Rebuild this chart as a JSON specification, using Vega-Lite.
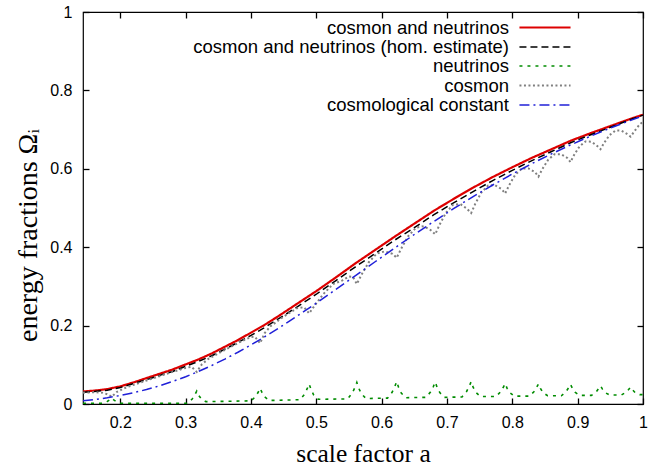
{
 "$schema": "https://vega.github.io/schema/vega-lite/v6.json",
 "width": 560, "height": 392,
 "autosize": {"type": "none"},
 "padding": {"left": 83, "top": 12, "right": 27, "bottom": 64},
 "background": "white",
 "config": {
  "view": {"stroke": "#000", "strokeWidth": 1.2}
 },
 "datasets": {
  "d": [
   {"s":"cosmon and neutrinos","a":0.1429,"v":0.032},{"s":"cosmon and neutrinos","a":0.16,"v":0.034},{"s":"cosmon and neutrinos","a":0.18,"v":0.038},{"s":"cosmon and neutrinos","a":0.2,"v":0.045},{"s":"cosmon and neutrinos","a":0.22,"v":0.055},{"s":"cosmon and neutrinos","a":0.24,"v":0.066},{"s":"cosmon and neutrinos","a":0.26,"v":0.077},{"s":"cosmon and neutrinos","a":0.28,"v":0.088},{"s":"cosmon and neutrinos","a":0.3,"v":0.101},{"s":"cosmon and neutrinos","a":0.32,"v":0.114},{"s":"cosmon and neutrinos","a":0.34,"v":0.129},{"s":"cosmon and neutrinos","a":0.36,"v":0.146},{"s":"cosmon and neutrinos","a":0.38,"v":0.163},{"s":"cosmon and neutrinos","a":0.4,"v":0.182},{"s":"cosmon and neutrinos","a":0.42,"v":0.201},{"s":"cosmon and neutrinos","a":0.44,"v":0.222},{"s":"cosmon and neutrinos","a":0.46,"v":0.244},{"s":"cosmon and neutrinos","a":0.48,"v":0.266},{"s":"cosmon and neutrinos","a":0.5,"v":0.288},{"s":"cosmon and neutrinos","a":0.53,"v":0.323},{"s":"cosmon and neutrinos","a":0.56,"v":0.359},{"s":"cosmon and neutrinos","a":0.59,"v":0.393},{"s":"cosmon and neutrinos","a":0.62,"v":0.427},{"s":"cosmon and neutrinos","a":0.65,"v":0.46},{"s":"cosmon and neutrinos","a":0.68,"v":0.493},{"s":"cosmon and neutrinos","a":0.71,"v":0.523},{"s":"cosmon and neutrinos","a":0.74,"v":0.552},{"s":"cosmon and neutrinos","a":0.77,"v":0.579},{"s":"cosmon and neutrinos","a":0.8,"v":0.604},{"s":"cosmon and neutrinos","a":0.83,"v":0.628},{"s":"cosmon and neutrinos","a":0.86,"v":0.65},{"s":"cosmon and neutrinos","a":0.89,"v":0.672},{"s":"cosmon and neutrinos","a":0.92,"v":0.691},{"s":"cosmon and neutrinos","a":0.95,"v":0.709},{"s":"cosmon and neutrinos","a":0.98,"v":0.727},{"s":"cosmon and neutrinos","a":1,"v":0.738},
   {"s":"cosmon and neutrinos (hom. estimate)","a":0.1429,"v":0.03},{"s":"cosmon and neutrinos (hom. estimate)","a":0.16,"v":0.032},{"s":"cosmon and neutrinos (hom. estimate)","a":0.18,"v":0.035},{"s":"cosmon and neutrinos (hom. estimate)","a":0.2,"v":0.042},{"s":"cosmon and neutrinos (hom. estimate)","a":0.22,"v":0.052},{"s":"cosmon and neutrinos (hom. estimate)","a":0.24,"v":0.062},{"s":"cosmon and neutrinos (hom. estimate)","a":0.26,"v":0.073},{"s":"cosmon and neutrinos (hom. estimate)","a":0.28,"v":0.083},{"s":"cosmon and neutrinos (hom. estimate)","a":0.3,"v":0.096},{"s":"cosmon and neutrinos (hom. estimate)","a":0.32,"v":0.109},{"s":"cosmon and neutrinos (hom. estimate)","a":0.34,"v":0.123},{"s":"cosmon and neutrinos (hom. estimate)","a":0.36,"v":0.14},{"s":"cosmon and neutrinos (hom. estimate)","a":0.38,"v":0.157},{"s":"cosmon and neutrinos (hom. estimate)","a":0.4,"v":0.175},{"s":"cosmon and neutrinos (hom. estimate)","a":0.42,"v":0.194},{"s":"cosmon and neutrinos (hom. estimate)","a":0.44,"v":0.215},{"s":"cosmon and neutrinos (hom. estimate)","a":0.46,"v":0.236},{"s":"cosmon and neutrinos (hom. estimate)","a":0.48,"v":0.258},{"s":"cosmon and neutrinos (hom. estimate)","a":0.5,"v":0.28},{"s":"cosmon and neutrinos (hom. estimate)","a":0.53,"v":0.315},{"s":"cosmon and neutrinos (hom. estimate)","a":0.56,"v":0.35},{"s":"cosmon and neutrinos (hom. estimate)","a":0.59,"v":0.384},{"s":"cosmon and neutrinos (hom. estimate)","a":0.62,"v":0.418},{"s":"cosmon and neutrinos (hom. estimate)","a":0.65,"v":0.45},{"s":"cosmon and neutrinos (hom. estimate)","a":0.68,"v":0.483},{"s":"cosmon and neutrinos (hom. estimate)","a":0.71,"v":0.513},{"s":"cosmon and neutrinos (hom. estimate)","a":0.74,"v":0.542},{"s":"cosmon and neutrinos (hom. estimate)","a":0.77,"v":0.57},{"s":"cosmon and neutrinos (hom. estimate)","a":0.8,"v":0.596},{"s":"cosmon and neutrinos (hom. estimate)","a":0.83,"v":0.621},{"s":"cosmon and neutrinos (hom. estimate)","a":0.86,"v":0.644},{"s":"cosmon and neutrinos (hom. estimate)","a":0.89,"v":0.667},{"s":"cosmon and neutrinos (hom. estimate)","a":0.92,"v":0.687},{"s":"cosmon and neutrinos (hom. estimate)","a":0.95,"v":0.706},{"s":"cosmon and neutrinos (hom. estimate)","a":0.98,"v":0.725},{"s":"cosmon and neutrinos (hom. estimate)","a":1,"v":0.737},
   {"s":"neutrinos","a":0.1429,"v":0.002},{"s":"neutrinos","a":0.173,"v":0.002},{"s":"neutrinos","a":0.18,"v":0.0066},{"s":"neutrinos","a":0.184,"v":0.011},{"s":"neutrinos","a":0.187,"v":0.015},{"s":"neutrinos","a":0.19,"v":0.0105},{"s":"neutrinos","a":0.194,"v":0.006},{"s":"neutrinos","a":0.201,"v":0.002},
   {"s":"neutrinos","a":0.303,"v":0.002},{"s":"neutrinos","a":0.31,"v":0.0125},{"s":"neutrinos","a":0.314,"v":0.023},{"s":"neutrinos","a":0.317,"v":0.033},{"s":"neutrinos","a":0.32,"v":0.022},{"s":"neutrinos","a":0.324,"v":0.013},{"s":"neutrinos","a":0.331,"v":0.006},
   {"s":"neutrinos","a":0.4,"v":0.008},{"s":"neutrinos","a":0.407,"v":0.019},{"s":"neutrinos","a":0.411,"v":0.03},{"s":"neutrinos","a":0.414,"v":0.04},{"s":"neutrinos","a":0.417,"v":0.029},{"s":"neutrinos","a":0.421,"v":0.018},{"s":"neutrinos","a":0.428,"v":0.009},
   {"s":"neutrinos","a":0.475,"v":0.011},{"s":"neutrinos","a":0.482,"v":0.025},{"s":"neutrinos","a":0.486,"v":0.039},{"s":"neutrinos","a":0.489,"v":0.051},{"s":"neutrinos","a":0.492,"v":0.037},{"s":"neutrinos","a":0.496,"v":0.023},{"s":"neutrinos","a":0.503,"v":0.012},
   {"s":"neutrinos","a":0.548,"v":0.013},{"s":"neutrinos","a":0.555,"v":0.028},{"s":"neutrinos","a":0.559,"v":0.042},{"s":"neutrinos","a":0.562,"v":0.055},{"s":"neutrinos","a":0.565,"v":0.04},{"s":"neutrinos","a":0.569,"v":0.026},{"s":"neutrinos","a":0.576,"v":0.014},
   {"s":"neutrinos","a":0.609,"v":0.015},{"s":"neutrinos","a":0.616,"v":0.03},{"s":"neutrinos","a":0.62,"v":0.044},{"s":"neutrinos","a":0.623,"v":0.057},{"s":"neutrinos","a":0.626,"v":0.042},{"s":"neutrinos","a":0.63,"v":0.028},{"s":"neutrinos","a":0.637,"v":0.016},
   {"s":"neutrinos","a":0.668,"v":0.017},{"s":"neutrinos","a":0.675,"v":0.031},{"s":"neutrinos","a":0.679,"v":0.044},{"s":"neutrinos","a":0.682,"v":0.056},{"s":"neutrinos","a":0.685,"v":0.042},{"s":"neutrinos","a":0.689,"v":0.029},{"s":"neutrinos","a":0.696,"v":0.017},
   {"s":"neutrinos","a":0.723,"v":0.018},{"s":"neutrinos","a":0.73,"v":0.032},{"s":"neutrinos","a":0.734,"v":0.045},{"s":"neutrinos","a":0.737,"v":0.057},{"s":"neutrinos","a":0.74,"v":0.043},{"s":"neutrinos","a":0.744,"v":0.03},{"s":"neutrinos","a":0.751,"v":0.019},
   {"s":"neutrinos","a":0.775,"v":0.019},{"s":"neutrinos","a":0.782,"v":0.031},{"s":"neutrinos","a":0.786,"v":0.042},{"s":"neutrinos","a":0.789,"v":0.052},{"s":"neutrinos","a":0.792,"v":0.04},{"s":"neutrinos","a":0.796,"v":0.029},{"s":"neutrinos","a":0.803,"v":0.02},
   {"s":"neutrinos","a":0.826,"v":0.02},{"s":"neutrinos","a":0.833,"v":0.031},{"s":"neutrinos","a":0.837,"v":0.042},{"s":"neutrinos","a":0.84,"v":0.051},{"s":"neutrinos","a":0.843,"v":0.04},{"s":"neutrinos","a":0.847,"v":0.029},{"s":"neutrinos","a":0.854,"v":0.021},
   {"s":"neutrinos","a":0.875,"v":0.021},{"s":"neutrinos","a":0.882,"v":0.031},{"s":"neutrinos","a":0.886,"v":0.041},{"s":"neutrinos","a":0.889,"v":0.05},{"s":"neutrinos","a":0.892,"v":0.04},{"s":"neutrinos","a":0.896,"v":0.03},{"s":"neutrinos","a":0.903,"v":0.022},
   {"s":"neutrinos","a":0.921,"v":0.022},{"s":"neutrinos","a":0.928,"v":0.03},{"s":"neutrinos","a":0.932,"v":0.039},{"s":"neutrinos","a":0.935,"v":0.046},{"s":"neutrinos","a":0.938,"v":0.038},{"s":"neutrinos","a":0.942,"v":0.029},{"s":"neutrinos","a":0.949,"v":0.023},
   {"s":"neutrinos","a":0.967,"v":0.023},{"s":"neutrinos","a":0.974,"v":0.03},{"s":"neutrinos","a":0.978,"v":0.037},{"s":"neutrinos","a":0.981,"v":0.043},{"s":"neutrinos","a":0.984,"v":0.036},{"s":"neutrinos","a":0.988,"v":0.029},{"s":"neutrinos","a":0.995,"v":0.024},{"s":"neutrinos","a":1,"v":0.024},
   {"s":"cosmon","a":0.1429,"v":0.029},{"s":"cosmon","a":0.16,"v":0.03},{"s":"cosmon","a":0.172,"v":0.029},{"s":"cosmon","a":0.18,"v":0.025},{"s":"cosmon","a":0.187,"v":0.0185},
   {"s":"cosmon","a":0.195,"v":0.0313},{"s":"cosmon","a":0.21,"v":0.043},{"s":"cosmon","a":0.25,"v":0.0655},{"s":"cosmon","a":0.28,"v":0.082},{"s":"cosmon","a":0.3,"v":0.092},{"s":"cosmon","a":0.309,"v":0.095},{"s":"cosmon","a":0.317,"v":0.082},
   {"s":"cosmon","a":0.325,"v":0.1018},{"s":"cosmon","a":0.335,"v":0.1153},{"s":"cosmon","a":0.36,"v":0.138},{"s":"cosmon","a":0.385,"v":0.1597},{"s":"cosmon","a":0.4,"v":0.171},{"s":"cosmon","a":0.406,"v":0.1717},{"s":"cosmon","a":0.414,"v":0.155},
   {"s":"cosmon","a":0.421,"v":0.181},{"s":"cosmon","a":0.43,"v":0.1985},{"s":"cosmon","a":0.45,"v":0.223},{"s":"cosmon","a":0.47,"v":0.244},{"s":"cosmon","a":0.481,"v":0.2471},{"s":"cosmon","a":0.489,"v":0.231},
   {"s":"cosmon","a":0.4978,"v":0.252},{"s":"cosmon","a":0.5109,"v":0.2808},{"s":"cosmon","a":0.5255,"v":0.3058},{"s":"cosmon","a":0.5401,"v":0.3155},{"s":"cosmon","a":0.5502,"v":0.3252},{"s":"cosmon","a":0.556,"v":0.3242},{"s":"cosmon","a":0.562,"v":0.306},
   {"s":"cosmon","a":0.5693,"v":0.3302},{"s":"cosmon","a":0.5803,"v":0.3617},{"s":"cosmon","a":0.5925,"v":0.3838},{"s":"cosmon","a":0.6047,"v":0.3892},{"s":"cosmon","a":0.6167,"v":0.383},{"s":"cosmon","a":0.623,"v":0.373},
   {"s":"cosmon","a":0.6301,"v":0.3969},{"s":"cosmon","a":0.6407,"v":0.4281},{"s":"cosmon","a":0.6525,"v":0.4498},{"s":"cosmon","a":0.6643,"v":0.4536},{"s":"cosmon","a":0.6749,"v":0.4438},{"s":"cosmon","a":0.682,"v":0.433},
   {"s":"cosmon","a":0.6886,"v":0.4573},{"s":"cosmon","a":0.6985,"v":0.4883},{"s":"cosmon","a":0.7095,"v":0.5085},{"s":"cosmon","a":0.7205,"v":0.51},{"s":"cosmon","a":0.7304,"v":0.4984},{"s":"cosmon","a":0.737,"v":0.487},
   {"s":"cosmon","a":0.7432,"v":0.5105},{"s":"cosmon","a":0.7526,"v":0.5396},{"s":"cosmon","a":0.763,"v":0.5577},{"s":"cosmon","a":0.7734,"v":0.5584},{"s":"cosmon","a":0.7838,"v":0.548},{"s":"cosmon","a":0.789,"v":0.537},
   {"s":"cosmon","a":0.7951,"v":0.558},{"s":"cosmon","a":0.8043,"v":0.5844},{"s":"cosmon","a":0.8145,"v":0.6006},{"s":"cosmon","a":0.8247,"v":0.601},{"s":"cosmon","a":0.8349,"v":0.5911},{"s":"cosmon","a":0.84,"v":0.58},
   {"s":"cosmon","a":0.8459,"v":0.5991},{"s":"cosmon","a":0.8547,"v":0.6227},{"s":"cosmon","a":0.8645,"v":0.6373},{"s":"cosmon","a":0.8743,"v":0.6372},{"s":"cosmon","a":0.8841,"v":0.6277},{"s":"cosmon","a":0.889,"v":0.617},
   {"s":"cosmon","a":0.8945,"v":0.6352},{"s":"cosmon","a":0.9028,"v":0.6571},{"s":"cosmon","a":0.912,"v":0.6699},{"s":"cosmon","a":0.9212,"v":0.669},{"s":"cosmon","a":0.9295,"v":0.6589},{"s":"cosmon","a":0.935,"v":0.65},
   {"s":"cosmon","a":0.9405,"v":0.6661},{"s":"cosmon","a":0.9488,"v":0.686},{"s":"cosmon","a":0.958,"v":0.6978},{"s":"cosmon","a":0.9672,"v":0.6973},{"s":"cosmon","a":0.9755,"v":0.689},{"s":"cosmon","a":0.981,"v":0.682},
   {"s":"cosmon","a":0.9865,"v":0.695},{"s":"cosmon","a":0.995,"v":0.7136},{"s":"cosmon","a":1,"v":0.72},
   {"s":"cosmological constant","a":0.1429,"v":0.008},{"s":"cosmological constant","a":0.16,"v":0.0112},{"s":"cosmological constant","a":0.18,"v":0.0159},{"s":"cosmological constant","a":0.2,"v":0.0217},{"s":"cosmological constant","a":0.22,"v":0.0287},{"s":"cosmological constant","a":0.24,"v":0.0369},{"s":"cosmological constant","a":0.26,"v":0.0465},{"s":"cosmological constant","a":0.28,"v":0.0574},{"s":"cosmological constant","a":0.3,"v":0.0697},{"s":"cosmological constant","a":0.32,"v":0.0833},{"s":"cosmological constant","a":0.34,"v":0.0983},{"s":"cosmological constant","a":0.36,"v":0.1146},{"s":"cosmological constant","a":0.38,"v":0.1321},{"s":"cosmological constant","a":0.4,"v":0.1508},{"s":"cosmological constant","a":0.42,"v":0.1705},{"s":"cosmological constant","a":0.44,"v":0.1911},{"s":"cosmological constant","a":0.46,"v":0.2126},{"s":"cosmological constant","a":0.48,"v":0.2347},{"s":"cosmological constant","a":0.5,"v":0.2574},{"s":"cosmological constant","a":0.53,"v":0.2923},{"s":"cosmological constant","a":0.56,"v":0.3276},{"s":"cosmological constant","a":0.59,"v":0.3629},{"s":"cosmological constant","a":0.62,"v":0.398},{"s":"cosmological constant","a":0.65,"v":0.4324},{"s":"cosmological constant","a":0.68,"v":0.4658},{"s":"cosmological constant","a":0.71,"v":0.4982},{"s":"cosmological constant","a":0.74,"v":0.5292},{"s":"cosmological constant","a":0.77,"v":0.5587},{"s":"cosmological constant","a":0.8,"v":0.5868},{"s":"cosmological constant","a":0.83,"v":0.6133},{"s":"cosmological constant","a":0.86,"v":0.6382},{"s":"cosmological constant","a":0.89,"v":0.6616},{"s":"cosmological constant","a":0.92,"v":0.6835},{"s":"cosmological constant","a":0.95,"v":0.704},{"s":"cosmological constant","a":0.98,"v":0.723},{"s":"cosmological constant","a":1,"v":0.735}
  ]
 },
 "layer": [
  {
   "data": {"name": "d"},
   "mark": {"type": "line"},
   "encoding": {
    "x": {"field": "a", "type": "quantitative", "scale": {"domain": [0.1429, 1], "nice": false, "zero": false},
      "axis": {"values": [0.2, 0.3, 0.4, 0.5, 0.6, 0.7, 0.8, 0.9, 1], "format": "~g", "domain": false, "grid": false, "ticks": true, "tickSize": -6, "tickColor": "#000", "tickWidth": 1.3, "labelPadding": 16, "labelFlush": false, "labelFont": "Liberation Sans", "labelFontSize": 16, "labelColor": "#000", "title": "scale factor a", "titleFont": "Liberation Serif", "titleFontSize": 25.5, "titleFontWeight": "normal", "titleColor": "#000", "titleY": 57, "titleBaseline": "alphabetic"}},
    "y": {"field": "v", "type": "quantitative", "scale": {"domain": [0, 1], "nice": false, "zero": false},
      "axis": {"values": [0, 0.2, 0.4, 0.6, 0.8, 1], "format": "~g", "domain": false, "grid": false, "ticks": true, "tickSize": -6, "tickColor": "#000", "tickWidth": 1.3, "labelPadding": 17, "labelFlush": false, "labelFont": "Liberation Sans", "labelFontSize": 16, "labelColor": "#000", "title": "energy fractions Ωᵢ", "titleFont": "Liberation Serif", "titleFontSize": 28, "titleFontWeight": "normal", "titleColor": "#000", "titleX": -47, "titleY": 223, "titleBaseline": "alphabetic"}},
    "color": {"field": "s", "type": "nominal",
      "scale": {"domain": ["cosmon and neutrinos", "cosmon and neutrinos (hom. estimate)", "neutrinos", "cosmon", "cosmological constant"], "range": ["#dd0000", "#000000", "#008c00", "#808080", "#2020d8"]},
      "legend": {"title": null, "orient": "none", "legendX": 452, "legendY": 5.5, "direction": "vertical", "padding": 0, "rowPadding": 0, "symbolType": "M-2.95,0H2.95", "symbolSize": 300, "symbolStrokeWidth": 1.5, "labelAlign": "right", "labelOffset": -46, "labelFont": "Liberation Sans", "labelFontSize": 18.5, "labelColor": "#000", "labelLimit": 600}},
    "strokeDash": {"field": "s", "type": "nominal",
      "scale": {"domain": ["cosmon and neutrinos", "cosmon and neutrinos (hom. estimate)", "neutrinos", "cosmon", "cosmological constant"], "range": [[1, 0], [7, 4], [3, 5], [2, 2.5], [10, 4, 2, 4]]}},
    "strokeWidth": {"field": "s", "type": "nominal",
      "scale": {"type": "ordinal", "domain": ["cosmon and neutrinos", "cosmon and neutrinos (hom. estimate)", "neutrinos", "cosmon", "cosmological constant"], "range": [2.2, 1.5, 1.6, 2, 1.5]}, "legend": null}
   }
  },
  {
   "data": {"name": "d"},
   "mark": {"type": "line", "strokeWidth": 0, "opacity": 0},
   "encoding": {
    "x": {"field": "a", "type": "quantitative", "axis": {"orient": "top", "values": [0.2, 0.3, 0.4, 0.5, 0.6, 0.7, 0.8, 0.9, 1], "labels": false, "title": null, "domain": false, "grid": false, "ticks": true, "tickSize": -6, "tickColor": "#000", "tickWidth": 1.3}},
    "y": {"field": "v", "type": "quantitative", "axis": {"orient": "right", "values": [0, 0.2, 0.4, 0.6, 0.8, 1], "labels": false, "title": null, "domain": false, "grid": false, "ticks": true, "tickSize": -6, "tickColor": "#000", "tickWidth": 1.3}}
   }
  }
 ],
 "resolve": {"axis": {"x": "independent", "y": "independent"}}
}
